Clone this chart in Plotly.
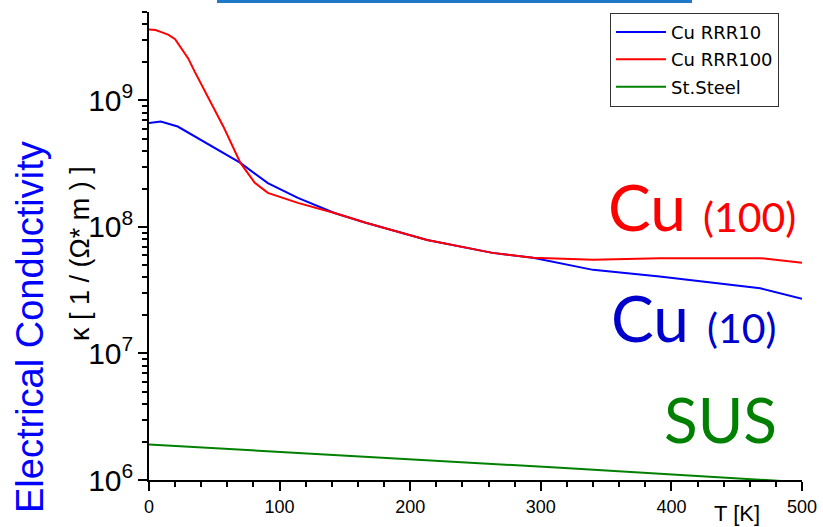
import plotly.graph_objects as go

# ---- data ----
T_rrr10 = [0, 9, 22, 37, 53, 70, 91, 114, 142, 166, 213, 263, 294, 340, 391, 468, 500]
k_rrr10 = [6.62e8, 6.82e8, 6.22e8, 5.07e8, 4.08e8, 3.21e8, 2.22e8, 1.70e8, 1.29e8,
           1.08e8, 7.9e7, 6.24e7, 5.7e7, 4.58e7, 4.06e7, 3.28e7, 2.70e7]

T_rrr100 = [0, 5, 10, 15, 20, 24, 30, 35, 45, 57, 70, 81, 91, 100, 114, 142, 166, 213, 263, 294, 340, 391, 468, 500]
k_rrr100 = [3.63e9, 3.6e9, 3.45e9, 3.3e9, 3.05e9, 2.67e9, 2.15e9, 1.69e9, 1.08e9, 6.2e8, 3.21e8, 2.23e8,
            1.86e8, 1.74e8, 1.55e8, 1.29e8, 1.08e8, 7.9e7, 6.24e7, 5.7e7, 5.5e7, 5.67e7, 5.67e7, 5.22e7]

T_ss = [0, 116, 315, 458, 500]
k_ss = [1.91e6, 1.64e6, 1.25e6, 1.02e6, 0.96e6]

series_names = ["Cu RRR10", "Cu RRR100", "St.Steel"]
series_colors = ["#0000FF", "#FF0000", "#008000"]
x_tickvals = [0, 100, 200, 300, 400, 500]

# ---- plot area geometry (px) ----
W, H = 823, 527
L, R, TOP, B = 149, 21, 12, 47
PW, PH = W - L - R, H - TOP - B


def px(x):
    return (x - L) / PW


def py(y):
    return (H - B - y) / PH


fig = go.Figure()
for i, (xs, ys) in enumerate([(T_rrr10, k_rrr10), (T_rrr100, k_rrr100), (T_ss, k_ss)]):
    fig.add_trace(go.Scatter(x=xs, y=ys, mode="lines", name=series_names[i],
                             legendgroup=f"g{i}",
                             line=dict(color=series_colors[i], width=2)))

fig.update_layout(
    width=W, height=H,
    margin=dict(l=L, r=R, t=TOP, b=B, autoexpand=False),
    plot_bgcolor="white", paper_bgcolor="white",
    font=dict(family="Liberation Sans, Arial, sans-serif", color="black"),
    showlegend=True,
    legend=dict(x=px(610), y=py(12.7), xanchor="left", yanchor="top",
                bgcolor="white", bordercolor="#333333", borderwidth=1,
                font=dict(size=18, family="DejaVu Sans, sans-serif", color="black"),
                tracegroupgap=1, traceorder="grouped", itemwidth=50),
    xaxis=dict(range=[0, 500], tickvals=x_tickvals, ticks="outside", ticklen=9, tickwidth=1.5,
               showline=True, linecolor="black", linewidth=2, showgrid=False, zeroline=False,
               tickfont=dict(size=18), tickcolor="black", automargin=False,
               minor=dict(ticks="outside", ticklen=5, dtick=20, tickcolor="black", showgrid=False)),
    yaxis=dict(type="log", range=[6, 9.699], dtick=1, exponentformat="power",
               ticks="outside", ticklen=9, tickwidth=1.5, tickcolor="black", automargin=False,
               showline=True, linecolor="black", linewidth=2, showgrid=False, zeroline=False,
               tickfont=dict(size=24),
               minor=dict(ticks="outside", ticklen=5, dtick="D1", tickcolor="black", showgrid=False)),
)

big = "Lato, Noto Sans, sans-serif"
annots = [
    dict(text="Cu", x=px(606), y=py(206), xanchor="left", yanchor="middle",
         font=dict(size=64, color="#FF0000", family=big)),
    dict(text="(100)", x=px(701), y=py(216), xanchor="left", yanchor="middle",
         font=dict(size=41, color="#FF0000", family=big)),
    dict(text="Cu", x=px(609), y=py(317), xanchor="left", yanchor="middle",
         font=dict(size=64, color="#0000CC", family=big)),
    dict(text="(10)", x=px(705), y=py(327), xanchor="left", yanchor="middle",
         font=dict(size=41, color="#0000CC", family=big)),
    dict(text="SUS", x=px(662), y=py(419), xanchor="left", yanchor="middle",
         font=dict(size=62, color="#008000", family=big)),
    dict(text="T [K]", x=px(737), y=py(513), xanchor="center", yanchor="middle",
         font=dict(size=22, color="black")),
    dict(text="κ [ 1 / (Ω* m ) ]", x=px(80), y=py(254), xanchor="center", yanchor="middle",
         textangle=-90, font=dict(size=27, color="black")),
    dict(text="Electrical Conductivity", x=px(30), y=py(327), xanchor="center", yanchor="middle",
         textangle=-90, font=dict(size=38, color="#0000FF")),
]
for a in annots:
    fig.add_annotation(xref="paper", yref="paper", showarrow=False, **a)

# cut-off title underline at the very top
fig.add_shape(type="line", xref="paper", yref="paper", x0=px(217), x1=px(692),
              y0=py(1.5), y1=py(1.5), line=dict(color="#1F78C8", width=3))

fig.write_html("out.html", config={"displayModeBar": False},
               post_script="document.body.style.margin='0px';document.body.style.overflow='hidden';")
